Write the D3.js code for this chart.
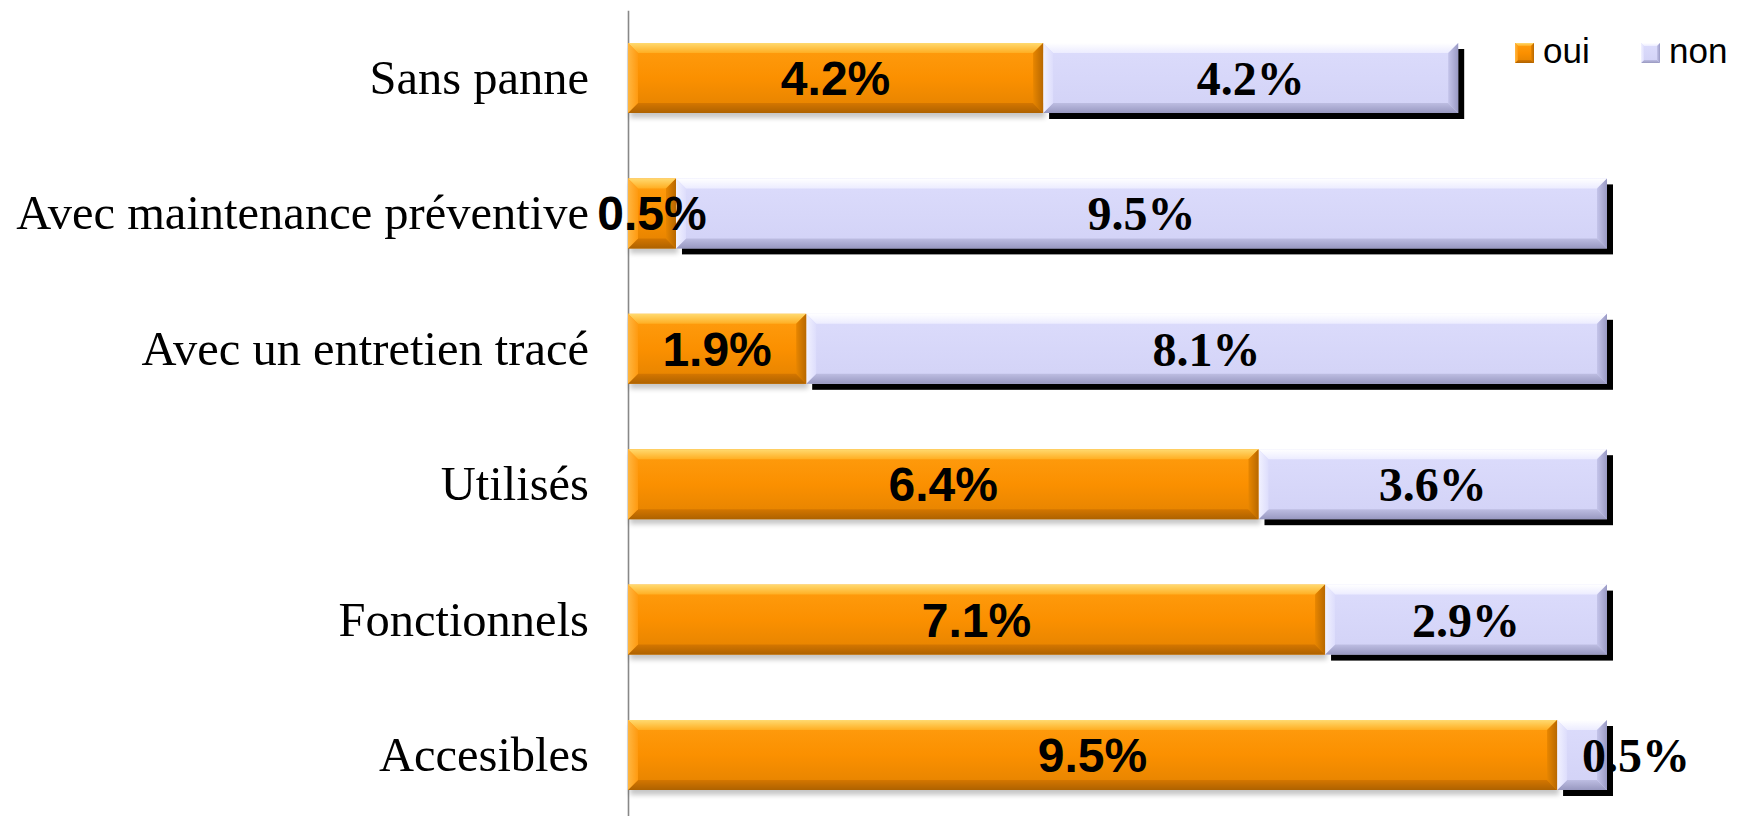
<!DOCTYPE html>
<html>
<head>
<meta charset="utf-8">
<script src="https://cdn.jsdelivr.net/npm/d3@7"></script>
<style>
  html, body { margin: 0; padding: 0; background: #fff; }
  svg { display: block; }
</style>
</head>
<body>
<svg id="chart" width="1744" height="816"></svg>
<script>
// ---- data ----
const categories = ["Sans panne", "Avec maintenance préventive", "Avec un entretien tracé", "Utilisés", "Fonctionnels", "Accesibles"];
const seriesNames = ["oui", "non"];
const ouiValues = [4.24, 0.49, 1.82, 6.44, 7.12, 9.49];
const nonValues = [4.24, 9.51, 8.18, 3.56, 2.88, 0.51];
const ouiLabels = ["4.2%", "0.5%", "1.9%", "6.4%", "7.1%", "9.5%"];
const nonLabels = ["4.2%", "9.5%", "8.1%", "3.6%", "2.9%", "0.5%"];

const W = 1744, H = 816;
const svg = d3.select("#chart");
svg.append("rect").attr("width", W).attr("height", H).attr("fill", "#fff");

const x = d3.scaleLinear().domain([0, 10]).range([628, 1607]);
const y = d3.scaleBand().domain(categories).range([10.3, 822.7]).paddingInner(0.483).paddingOuter(0.2415);

const defs = svg.append("defs");
function grad(id, stops) {
  const g = defs.append("linearGradient").attr("id", id).attr("x1", 0).attr("y1", 0).attr("x2", 0).attr("y2", 1);
  stops.forEach(s => g.append("stop").attr("offset", s[0]).attr("stop-color", s[1]));
}
function gradH(id, stops) {
  const g = defs.append("linearGradient").attr("id", id).attr("x1", 0).attr("y1", 0).attr("x2", 1).attr("y2", 0);
  stops.forEach(s => g.append("stop").attr("offset", s[0]).attr("stop-color", s[1]));
}
grad("oMain", [[0, "#FF9D10"], [0.5, "#FB9000"], [1, "#E38200"]]);
grad("oTop", [[0, "#FFDA70"], [1, "#FFAE22"]]);
grad("oBot", [[0, "#D47600"], [1, "#AE6200"]]);
gradH("oRight", [[0, "#E88600"], [1, "#B86800"]]);
gradH("oLeft", [[0, "#FFB640"], [1, "#FF9A10"]]);
grad("nMain", [[0, "#DCDCFC"], [1, "#D2D2F6"]]);
grad("nTop", [[0, "#FFFFFF"], [1, "#ECECFF"]]);
grad("nBot", [[0, "#BDBDE2"], [1, "#9898C0"]]);
gradH("nRight", [[0, "#C4C4EA"], [1, "#9A9AC4"]]);
gradH("nLeft", [[0, "#F2F2FF"], [1, "#DDDDFC"]]);
const f = defs.append("filter").attr("id", "soft").attr("x", "-10%").attr("y", "-30%").attr("width", "120%").attr("height", "160%");
f.append("feGaussianBlur").attr("stdDeviation", 2.5);

// axis with category labels
const axis = d3.axisLeft(y).tickSize(0).tickSizeOuter(0).tickPadding(39);
const gAxis = svg.append("g").attr("transform", `translate(${x(0)},0)`).call(axis);
gAxis.select(".domain").attr("stroke", "#888").attr("stroke-width", 1.6);
gAxis.selectAll(".tick text")
  .attr("font-family", "'Liberation Serif', 'Times New Roman', serif")
  .attr("font-size", 48.5).attr("fill", "#000").attr("dy", "0.33em");

function bevelBar(g, x0, y0, w, h, p, bmax) {
  const b = Math.min(bmax, w / 2 - 1, h / 2);
  g.append("rect").attr("x", x0).attr("y", y0).attr("width", w).attr("height", h).attr("fill", `url(#${p}Main)`);
  const poly = (pts, fill) => g.append("polygon").attr("points", pts.map(d => d.join(",")).join(" ")).attr("fill", fill);
  poly([[x0, y0], [x0 + w, y0], [x0 + w - b, y0 + b], [x0 + b, y0 + b]], `url(#${p}Top)`);
  poly([[x0, y0 + h], [x0 + w, y0 + h], [x0 + w - b, y0 + h - b], [x0 + b, y0 + h - b]], `url(#${p}Bot)`);
  poly([[x0, y0], [x0 + b, y0 + b], [x0 + b, y0 + h - b], [x0, y0 + h]], `url(#${p}Left)`);
  poly([[x0 + w, y0], [x0 + w - b, y0 + b], [x0 + w - b, y0 + h - b], [x0 + w, y0 + h]], `url(#${p}Right)`);
}

const rows = categories.map((c, i) => ({ c, oui: ouiValues[i], non: nonValues[i], lo: ouiLabels[i], ln: nonLabels[i], last: i === categories.length - 1 }));
const bh = y.bandwidth();

rows.forEach(r => {
  const g = svg.append("g");
  const y0 = y(r.c);
  const xo0 = x(0), xo1 = x(r.oui), xn1 = x(r.oui + r.non);
  // soft shadow under oui
  g.append("rect").attr("x", xo0 + 2).attr("y", y0 + 5).attr("width", xo1 - xo0).attr("height", bh)
    .attr("fill", "#000").attr("opacity", 0.22).attr("filter", "url(#soft)");
  // hard shadow behind non
  g.append("rect").attr("x", xo1 + 6).attr("y", y0 + 6).attr("width", xn1 - xo1).attr("height", bh).attr("fill", "#000");
  bevelBar(g, xo1, y0, xn1 - xo1, bh, "n", 10);
  bevelBar(g, xo0, y0, xo1 - xo0, bh, "o", 10);
});

// labels
rows.forEach(r => {
  const yc = y(r.c) + bh / 2;
  svg.append("text").attr("x", (x(0) + x(r.oui)) / 2).attr("y", yc + 17)
    .attr("text-anchor", "middle").attr("font-family", "'Liberation Sans', Arial, sans-serif")
    .attr("font-weight", "bold").attr("font-size", 48).attr("fill", "#000").text(r.lo);
  const cx = (x(r.oui) + x(r.oui + r.non)) / 2;
  svg.append("text").attr("x", cx).attr("y", yc + 17)
    .attr("text-anchor", r.last ? "start" : "middle").attr("font-family", "'Liberation Serif', 'Times New Roman', serif")
    .attr("font-weight", "bold").attr("font-size", 48).attr("fill", "#000").text(r.ln);
});

// legend
const legend = svg.append("g");
const legX = [1515, 1641];
seriesNames.forEach((s, i) => {
  const p = i === 0 ? "o" : "n";
  const lg = legend.append("g");
  bevelBar(lg, legX[i], 43, 19, 20, p, 3);
  lg.append("text").attr("x", legX[i] + 28).attr("y", 63)
    .attr("font-family", "'Liberation Sans', Arial, sans-serif").attr("font-size", 35).attr("fill", "#000").text(s);
});
</script>
</body>
</html>
